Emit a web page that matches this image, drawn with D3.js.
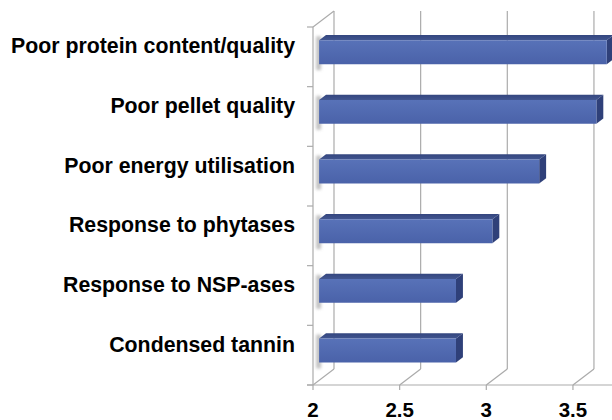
<!DOCTYPE html>
<html>
<head>
<meta charset="utf-8">
<script src="https://cdn.jsdelivr.net/npm/d3@7"></script>
<style>
  html, body { margin: 0; padding: 0; background: #ffffff; }
  svg { display: block; }
</style>
</head>
<body>
<svg id="chart" width="612" height="420"></svg>
<script>
// ---- data ----
const categories = [
  "Poor protein content/quality",
  "Poor pellet quality",
  "Poor energy utilisation",
  "Response to phytases",
  "Response to NSP-ases",
  "Condensed tannin"
];
const values = [3.66, 3.60, 3.27, 3.00, 2.79, 2.79];
const tickValues = [2, 2.5, 3, 3.5];
const tickLabels = ["2", "2.5", "3", "3.5"];

// ---- layout ----
const svg = d3.select("#chart");
const plotLeft = 313, plotTop = 27, plotBottom = 385;
const depthX = 21, depthY = 16;       // 3D depth offset of back wall
const barZ0 = 0.29, barZ1 = 0.62;     // bar depth span (fraction)

const x = d3.scaleLinear().domain([2, 4]).range([plotLeft, plotLeft + 2 * 173.3]);
const y = d3.scaleBand().domain(categories).range([plotTop, plotBottom])
  .paddingInner(0.6).paddingOuter(0.3);

const P = (px, py, z) => [px + z * depthX, py - z * depthY];
const poly = pts => pts.map(p => p.join(",")).join(" ");

const defs = svg.append("defs");
const gFront = defs.append("linearGradient").attr("id", "gFront")
  .attr("x1", 0).attr("y1", 0).attr("x2", 0).attr("y2", 1);
gFront.append("stop").attr("offset", "0%").attr("stop-color", "#5872b8");
gFront.append("stop").attr("offset", "100%").attr("stop-color", "#4a62a9");
const gTop = defs.append("linearGradient").attr("id", "gTop")
  .attr("x1", 0).attr("y1", 0).attr("x2", 0).attr("y2", 1);
gTop.append("stop").attr("offset", "0%").attr("stop-color", "#34467f");
gTop.append("stop").attr("offset", "100%").attr("stop-color", "#41558f");
const blur = defs.append("filter").attr("id", "blur")
  .attr("x", "-100%").attr("y", "-50%").attr("width", "300%").attr("height", "200%");
blur.append("feGaussianBlur").attr("stdDeviation", 1.6);

const gridColor = "#ababab";
const grid = svg.append("g").attr("stroke", gridColor).attr("stroke-width", 1.2).attr("fill", "none");

// back wall vertical gridlines
grid.selectAll("line.v").data(tickValues).join("line")
  .attr("x1", d => P(x(d), plotTop, 1)[0]).attr("y1", d => P(x(d), plotTop, 1)[1])
  .attr("x2", d => P(x(d), plotBottom, 1)[0]).attr("y2", d => P(x(d), plotBottom, 1)[1]);
// floor diagonals
grid.selectAll("line.f").data(tickValues).join("line")
  .attr("x1", d => x(d)).attr("y1", plotBottom)
  .attr("x2", d => P(x(d), plotBottom, 1)[0]).attr("y2", d => P(x(d), plotBottom, 1)[1]);
// top-left diagonal
grid.append("line")
  .attr("x1", plotLeft).attr("y1", plotTop)
  .attr("x2", P(plotLeft, plotTop, 1)[0]).attr("y2", P(plotLeft, plotTop, 1)[1]);
// front-left vertical axis
grid.append("line").attr("x1", plotLeft).attr("y1", plotTop).attr("x2", plotLeft).attr("y2", plotBottom);
// front floor line
grid.append("line").attr("x1", plotLeft - 6).attr("y1", plotBottom).attr("x2", 612).attr("y2", plotBottom);
// category ticks
const bounds = d3.range(categories.length + 1).map(i => plotTop + i * (plotBottom - plotTop) / categories.length);
grid.selectAll("line.ct").data(bounds).join("line")
  .attr("x1", plotLeft - 6).attr("x2", plotLeft).attr("y1", d => d).attr("y2", d => d);
// value ticks
grid.selectAll("line.vt").data(tickValues).join("line")
  .attr("x1", d => x(d)).attr("x2", d => x(d)).attr("y1", plotBottom).attr("y2", plotBottom + 5);

// bars
const bars = svg.append("g");
categories.forEach((c, i) => {
  const v = values[i];
  const y0 = y(c), y1 = y(c) + y.bandwidth();
  const xs = x(2), xe = x(v);
  const a = P(xs, y0, barZ0), b = P(xe, y0, barZ0), cc = P(xe, y1, barZ0), d = P(xs, y1, barZ0);
  const a2 = P(xs, y0, barZ1), b2 = P(xe, y0, barZ1), c2 = P(xe, y1, barZ1);
  bars.append("rect")
    .attr("x", a[0] - 3).attr("y", a[1] - 4).attr("width", 5).attr("height", y.bandwidth() + 10)
    .attr("fill", "#9a9a9a").attr("opacity", 0.6).attr("filter", "url(#blur)");
  bars.append("polygon").attr("points", poly([a, b, b2, a2])).attr("fill", "url(#gTop)");
  bars.append("polygon").attr("points", poly([b, b2, c2, cc])).attr("fill", "#2f4079");
  bars.append("polygon").attr("points", poly([a, b, cc, d])).attr("fill", "url(#gFront)");
});

// category labels
svg.append("g").selectAll("text").data(categories).join("text")
  .attr("x", 295)
  .attr("y", d => y(d) + y.bandwidth() / 2 - 3.5)
  .attr("text-anchor", "end")
  .attr("font-family", "'Liberation Sans', Arial, sans-serif")
  .attr("font-weight", "bold")
  .attr("font-size", 21.3)
  .attr("fill", "#000")
  .text(d => d);

// value tick labels
svg.append("g").selectAll("text").data(tickValues).join("text")
  .attr("x", d => x(d))
  .attr("y", 417)
  .attr("text-anchor", "middle")
  .attr("font-family", "'Liberation Sans', Arial, sans-serif")
  .attr("font-weight", "bold")
  .attr("font-size", 20.5)
  .attr("fill", "#000")
  .text((d, i) => tickLabels[i]);
</script>
</body>
</html>
